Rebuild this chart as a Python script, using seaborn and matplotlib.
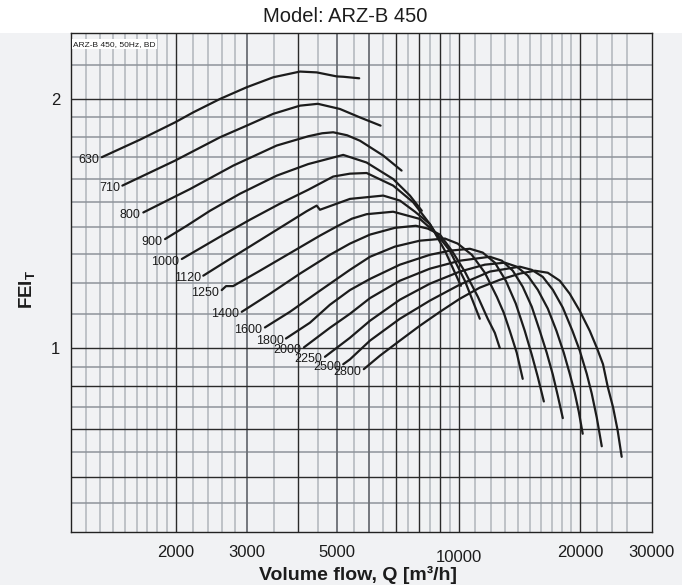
import matplotlib
matplotlib.use("Agg")
import matplotlib.pyplot as plt
import numpy as np
import pandas as pd
import seaborn as sns
from matplotlib.patches import Rectangle
from matplotlib.ticker import NullLocator

# ── Data ─────────────────────────────────────────────────────────────

SPEEDS = [630, 710, 800, 900, 1000, 1120, 1250, 1400, 1600, 1800, 2000, 2250, 2500, 2800]

Q_630 = [1313, 1632, 1992, 2210, 2573, 2995, 3483, 4055, 4460, 5000, 5190, 5680]
F_630 = [1.701, 1.786, 1.874, 1.927, 2.000, 2.066, 2.124, 2.158, 2.153, 2.129, 2.127, 2.118]

Q_710 = [1476, 1992, 2573, 2995, 3483, 4055, 4490, 5089, 5702, 6414]
F_710 = [1.572, 1.685, 1.798, 1.857, 1.919, 1.963, 1.973, 1.945, 1.900, 1.857]

Q_800 = [1663, 2169, 2775, 3551, 4251, 4600, 4898, 5300, 5702, 6509, 7228]
F_800 = [1.459, 1.557, 1.662, 1.757, 1.803, 1.818, 1.823, 1.808, 1.781, 1.709, 1.639]

Q_900 = [1882, 2129, 2431, 2883, 3551, 4251, 5186, 5925, 6890, 7580, 8110]
F_900 = [1.355, 1.406, 1.466, 1.537, 1.616, 1.669, 1.712, 1.676, 1.601, 1.529, 1.466]

Q_1000 = [2070, 2573, 3051, 3618, 4251, 4898, 5388, 5925, 6890, 7720, 8490, 9020]
F_1000 = [1.282, 1.364, 1.430, 1.495, 1.554, 1.612, 1.625, 1.628, 1.572, 1.501, 1.413, 1.349]

Q_1120 = [2339, 2883, 3618, 4212, 4459, 4543, 5388, 6510, 7160, 7800, 8490, 9250, 10130]
F_1120 = [1.224, 1.305, 1.398, 1.464, 1.487, 1.470, 1.515, 1.529, 1.508, 1.462, 1.413, 1.312, 1.190]

Q_1250 = [2598, 2663, 2771, 3229, 3831, 4543, 4995, 5449, 5925, 6890, 8020, 8780, 9510, 10360, 11280]
F_1250 = [1.176, 1.189, 1.189, 1.241, 1.303, 1.368, 1.403, 1.434, 1.452, 1.462, 1.433, 1.379, 1.312, 1.207, 1.086]

Q_1400 = [2911, 3418, 4055, 4808, 5388, 6040, 6960, 7840, 8390, 8990, 9620, 10360, 11160, 11800, 12290, 12640]
F_1400 = [1.107, 1.164, 1.231, 1.297, 1.338, 1.372, 1.398, 1.406, 1.395, 1.372, 1.312, 1.238, 1.154, 1.086, 1.044, 1.001]

Q_1600 = [3322, 3829, 4543, 5388, 6040, 6960, 8020, 9250, 9950, 10780, 11610, 12430, 12930, 13380, 13920, 14400]
F_1600 = [1.060, 1.107, 1.174, 1.244, 1.290, 1.327, 1.349, 1.357, 1.338, 1.297, 1.234, 1.154, 1.104, 1.050, 0.988, 0.919]

Q_1800 = [3744, 4291, 4808, 5388, 6040, 7160, 8490, 9510, 10660, 11470, 12290, 13080, 13840, 14570, 15160, 15690, 16240]
F_1800 = [1.028, 1.074, 1.129, 1.176, 1.213, 1.262, 1.297, 1.312, 1.319, 1.305, 1.269, 1.207, 1.133, 1.050, 0.983, 0.924, 0.863]

Q_2000 = [4148, 4808, 5388, 6040, 7160, 8490, 10070, 11940, 12790, 13610, 14400, 15160, 15870, 16510, 17090, 17580, 18090]
F_2000 = [1.003, 1.059, 1.101, 1.150, 1.207, 1.248, 1.276, 1.290, 1.276, 1.241, 1.187, 1.123, 1.050, 0.988, 0.930, 0.877, 0.824]

Q_2250 = [4674, 5388, 6040, 7160, 8490, 10070, 11610, 13010, 13920, 14820, 15690, 16610, 17450, 18190, 18820, 19360, 19810, 20260]
F_2250 = [0.977, 1.030, 1.080, 1.145, 1.197, 1.238, 1.262, 1.269, 1.255, 1.224, 1.177, 1.117, 1.050, 0.988, 0.932, 0.884, 0.839, 0.789]

Q_2500 = [5186, 5388, 6040, 7160, 8490, 10070, 11940, 14160, 15160, 16140, 17090, 18090, 19110, 19920, 20730, 21330, 21950, 22580]
F_2500 = [0.957, 0.970, 1.022, 1.086, 1.142, 1.194, 1.238, 1.255, 1.244, 1.220, 1.177, 1.120, 1.050, 0.994, 0.932, 0.882, 0.825, 0.762]

Q_2800 = [5830, 6390, 7160, 8020, 8990, 10070, 11280, 12640, 14160, 15430, 16610, 17780, 18820, 19920, 21090, 21950, 22740, 23360, 24080, 24720, 25290]
F_2800 = [0.944, 0.980, 1.022, 1.065, 1.107, 1.148, 1.184, 1.210, 1.231, 1.241, 1.234, 1.207, 1.164, 1.110, 1.050, 1.002, 0.957, 0.899, 0.849, 0.796, 0.740]

CURVES = {
    630: (Q_630, F_630), 710: (Q_710, F_710), 800: (Q_800, F_800),
    900: (Q_900, F_900), 1000: (Q_1000, F_1000), 1120: (Q_1120, F_1120),
    1250: (Q_1250, F_1250), 1400: (Q_1400, F_1400), 1600: (Q_1600, F_1600),
    1800: (Q_1800, F_1800), 2000: (Q_2000, F_2000), 2250: (Q_2250, F_2250),
    2500: (Q_2500, F_2500), 2800: (Q_2800, F_2800),
}

# axis ticks and grid values
X_TICKS = [2000, 3000, 4000, 5000, 6000, 7000, 8000, 9000, 10000, 20000, 30000]
X_TICK_LABELS = ["2000", "3000", "", "5000", "", "", "", "", "10000", "20000", "30000"]
Y_TICKS = [0.7, 0.8, 0.9, 1.0, 2.0]
Y_TICK_LABELS = ["", "", "", "1", "2"]

GRID_X_DARK = [2000, 4000, 7000, 8000, 9000, 10000, 20000]
GRID_X_MID = [3000, 5000, 6000]
GRID_X_LIGHT = ([1200, 1300, 1400, 1500, 1600, 1700, 1800, 1900,
                 2200, 2400, 2600, 2800, 3500, 4500, 5500, 6500, 7500, 8500, 9500]
                + [11000, 12000, 13000, 14000, 15000, 16000, 17000, 18000, 19000,
                   22000, 24000, 26000])
GRID_Y_DARK = [0.7, 0.8, 0.9, 1.0, 2.0]
GRID_Y_LIGHT = [0.65, 0.75, 0.85, 0.95, 1.1, 1.2, 1.3, 1.4, 1.5, 1.6, 1.7, 1.8, 1.9, 2.2]

BG = "#f1f2f4"
INK = "#1c1c1c"

# ── Plot ─────────────────────────────────────────────────────────────

sns.set_theme(style="white")
plt.rcParams["font.family"] = ["Liberation Sans", "DejaVu Sans"]
plt.rcParams["mathtext.fontset"] = "custom"
plt.rcParams["mathtext.rm"] = "Liberation Sans"
plt.rcParams["mathtext.bf"] = "Liberation Sans:bold"

df = pd.concat(
    [pd.DataFrame({"rpm": n, "Q": q, "FEI": f}) for n, (q, f) in CURVES.items()],
    ignore_index=True,
)

fig = plt.figure(figsize=(6.82, 5.85), dpi=100, facecolor=BG)
fig.add_artist(Rectangle((0, 1 - 33 / 585), 1, 33 / 585, transform=fig.transFigure,
                         facecolor="white", edgecolor="none", zorder=0))
ax = fig.add_axes([70.7 / 682, 1 - 532.3 / 585, 581 / 682, 499 / 585])
ax.set_facecolor(BG)

for v in GRID_X_LIGHT:
    ax.axvline(v, color="#b5bac0", lw=1.2, zorder=1)
for v in GRID_Y_LIGHT:
    ax.axhline(v, color="#8e949b", lw=1.1, zorder=1)
for v in GRID_X_MID:
    ax.axvline(v, color="#6a6e74", lw=1.3, zorder=2)
for v in GRID_X_DARK:
    ax.axvline(v, color="#2a2a2a", lw=1.0, zorder=2)
for v in GRID_Y_DARK:
    ax.axhline(v, color="#2a2a2a", lw=1.0, zorder=2)

sns.lineplot(data=df, x="Q", y="FEI", units="rpm", estimator=None, sort=False,
             color=INK, lw=1.6, ax=ax, legend=False, zorder=3)

for n, (q, f) in CURVES.items():
    ax.annotate(str(n), (q[0], f[0]), xytext=(-1.8, -1.8), textcoords="offset points",
                ha="right", va="center", fontsize=9, color=INK, zorder=4)

ax.set_xscale("log")
ax.set_yscale("log")
ax.set_xlim(1100, 30000)
ax.set_ylim(0.6, 2.4)

ax.set_xticks(X_TICKS)
ax.set_xticklabels(X_TICK_LABELS)
ax.set_yticks(Y_TICKS)
ax.set_yticklabels(Y_TICK_LABELS)
ax.xaxis.set_minor_locator(NullLocator())
ax.yaxis.set_minor_locator(NullLocator())
ax.tick_params(axis="x", direction="out", length=3.4, width=1.0, color="#2a2a2a",
               pad=5.5, labelsize=12, labelcolor=INK)
ax.tick_params(axis="y", direction="out", length=5, width=1.0, color="#2a2a2a",
               pad=2.5, labelsize=12, labelcolor=INK)
tick_10k = ax.xaxis.get_major_ticks()[X_TICKS.index(10000)]
tick_10k.tick1line.set_markersize(4.6)
tick_10k.set_pad(9.5)

for s in ax.spines.values():
    s.set_visible(True)
    s.set_color("#222222")
    s.set_linewidth(1.0)

ax.set_xlabel("Volume flow, Q [m³/h]", fontsize=14, fontweight="bold", color=INK)
ax.set_ylabel(r"$\mathbf{FEI_T}$", fontsize=13.5, color=INK)
ax.xaxis.label.set_va("center")
ax.xaxis.set_label_coords(0.494, -0.086)
ax.yaxis.label.set_va("center")
ax.yaxis.set_label_coords(-0.076, 0.486)

ax.text(0.004, 0.985, "ARZ-B 450, 50Hz, BD", transform=ax.transAxes, ha="left", va="top",
        fontsize=6, color=INK, zorder=5,
        bbox=dict(facecolor="white", edgecolor="none", pad=1.0))

fig.text(0.506, 1 - 16 / 585, "Model: ARZ-B 450", ha="center", va="center",
         fontsize=14.5, color=INK)

fig.savefig("out.png", dpi=100, facecolor=fig.get_facecolor())
